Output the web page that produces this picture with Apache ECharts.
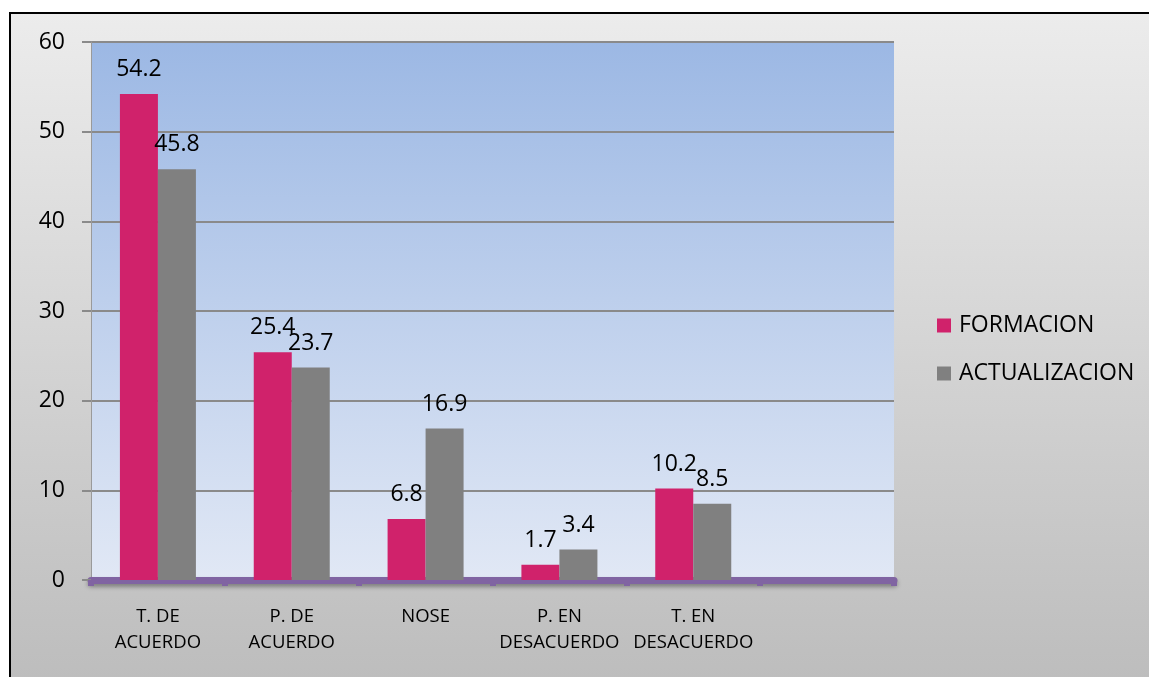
<!DOCTYPE html>
<html>
<head>
	<meta charset="UTF-8">
	<title>Formacion / Actualizacion</title>
	<style>
		html, body { margin: 0; padding: 0; background: #fff; }
		#display { width: 1149px; height: 677px; }
	</style>
</head>
<body>
	<div id="display"></div>
	<script src="https://cdn.jsdelivr.net/npm/echarts@6/dist/echarts.min.js"></script>
	<script>
		// categorias (la ultima queda vacia como en el original)
		var categorias = ['T. DE\nACUERDO', 'P. DE\nACUERDO', 'NOSE', 'P. EN\nDESACUERDO', 'T. EN\nDESACUERDO', ''];
		var formacion = [54.2, 25.4, 6.8, 1.7, 10.2, null];
		var actualizacion = [45.8, 23.7, 16.9, 3.4, 8.5, null];
		var nombres = ['FORMACION', 'ACTUALIZACION'];
		var colores = ['#d0226b', '#808080'];

		var fuente = '"Open Sans", sans-serif';

		var etiqueta = {
			show: true,
			position: 'top',
			distance: 13,
			fontSize: 23,
			color: '#000',
			fontFamily: fuente
		};

		var option = {
			animation: false,
			textStyle: { fontFamily: fuente },
			graphic: [{
				type: 'rect',
				left: 9,
				top: 12,
				shape: { width: 1160, height: 680 },
				style: {
					fill: new echarts.graphic.LinearGradient(0, 0, 0, 1, [
						{ offset: 0, color: '#ececec' },
						{ offset: 1, color: '#bcbcbc' }
					]),
					stroke: '#000',
					lineWidth: 2
				},
				z: -10
			}],
			legend: {
				orient: 'vertical',
				left: 932,
				top: 309,
				itemWidth: 14,
				itemHeight: 14,
				itemGap: 25,
				icon: 'rect',
				data: nombres,
				textStyle: { fontSize: 23, color: '#000', fontFamily: fuente, padding: [0, 0, 0, 3] }
			},
			grid: {
				left: 91,
				top: 42,
				right: 255,
				bottom: 97,
				show: true,
				borderWidth: 0,
				backgroundColor: new echarts.graphic.LinearGradient(0, 0, 0, 1, [
					{ offset: 0, color: '#9cb8e4' },
					{ offset: 1, color: '#e1e8f5' }
				])
			},
			xAxis: {
				type: 'category',
				data: categorias,
				axisLine: {
					lineStyle: {
						color: '#8064a2', width: 7,
						shadowColor: 'rgba(0,0,0,0.35)', shadowBlur: 4, shadowOffsetY: 3
					}
				},
				axisTick: {
					show: true,
					length: 6,
					lineStyle: { color: '#8064a2', width: 6 }
				},
				axisLabel: {
					interval: 0,
					fontSize: 18.5,
					lineHeight: 26,
					margin: 24,
					color: '#000',
					fontFamily: fuente
				}
			},
			yAxis: {
				type: 'value',
				min: 0,
				max: 60,
				interval: 10,
				axisLine: { show: true, lineStyle: { color: '#9a9a9a', width: 1 } },
				axisTick: { show: true, length: 9, lineStyle: { color: '#8a8a8a', width: 2 } },
				splitLine: { lineStyle: { color: '#8a8a8a', width: 2 } },
				axisLabel: { fontSize: 23, color: '#000', margin: 26, fontFamily: fuente }
			},
			series: [{
				name: nombres[0],
				type: 'bar',
				data: formacion,
				barWidth: 38,
				barGap: '0%',
				itemStyle: { color: colores[0] },
				label: etiqueta
			}, {
				name: nombres[1],
				type: 'bar',
				data: actualizacion,
				barWidth: 38,
				barGap: '0%',
				itemStyle: { color: colores[1] },
				label: etiqueta
			}]
		};

		var myChart = echarts.init(document.getElementById('display'));
		myChart.setOption(option);
	</script>
</body>
</html>
